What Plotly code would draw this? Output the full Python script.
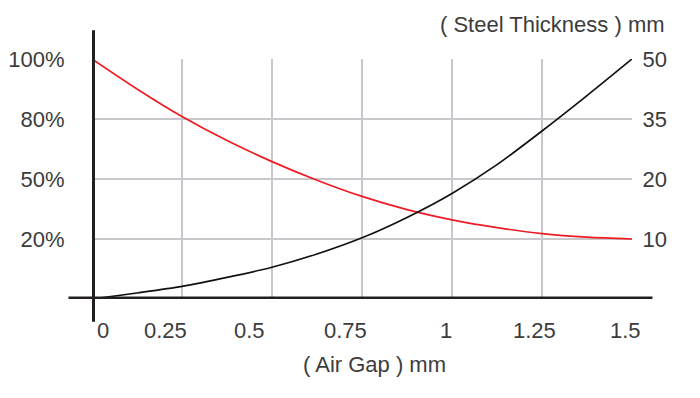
import plotly.graph_objects as go

# ---- data ----
air_gap = [0, 0.125, 0.25, 0.375, 0.5, 0.625, 0.75, 0.875, 1.0, 1.125, 1.25, 1.375, 1.5]
# positions on the (non-linear) level scale: 0 = baseline, 1..4 = labelled gridlines
force_level = [4.0, 3.5, 3.04, 2.64, 2.29, 1.98, 1.71, 1.49, 1.32, 1.19, 1.09, 1.03, 1.0]      # red (left, %)
thickness_level = [0.0, 0.1, 0.21, 0.36, 0.53, 0.75, 1.02, 1.36, 1.76, 2.24, 2.8, 3.39, 4.0]   # black (right, mm)

level_ticks = [1, 2, 3, 4]
pct_labels = ["20%", "50%", "80%", "100%"]
mm_labels = ["10", "20", "35", "50"]
x_tick_vals = [0, 0.25, 0.5, 0.75, 1.0, 1.25, 1.5]
x_tick_text = ["0", "0.25", "0.5", "0.75", "1", "1.25", "1.5"]
x_title = "( Air Gap ) mm"
y2_title = "( Steel Thickness ) mm"

# ---- style ----
FONT = "Liberation Sans, Arial, sans-serif"
TXT = "#3c3c3c"
GRID = "#c8c8cc"
AXIS = "#231f20"
FS = 22
x_label_shift = [11, -17, -23, -17, -6, -8, -7]

fig = go.Figure()
fig.add_trace(go.Scatter(x=air_gap, y=force_level, mode="lines",
                         line=dict(color="#ee1c25", width=1.7, shape="spline", smoothing=0.8),
                         cliponaxis=False, showlegend=False, hoverinfo="skip"))
fig.add_trace(go.Scatter(x=air_gap, y=thickness_level, mode="lines", yaxis="y2",
                         line=dict(color="#111111", width=1.7, shape="spline", smoothing=0.8),
                         cliponaxis=False, showlegend=False, hoverinfo="skip"))

# page body has an 8px margin: work in screen pixels and convert
OFF = 8
W, H = 692, 390
PL, PR, PT, PB = 92, 632, 59.3, 299.3        # plot area in screen pixels
L = PL - OFF
T = PT - OFF
R = W - (PR - OFF)
B = H - (PB - OFF)
pw, ph = W - L - R, H - T - B

def px_x(p):
    return (p - OFF - L) / pw

def px_y(p):
    return (H - B - (p - OFF)) / ph

fig.update_layout(
    width=W, height=H,
    margin=dict(l=L, r=R, t=T, b=B, autoexpand=False),
    paper_bgcolor="white", plot_bgcolor="white",
    font=dict(family=FONT, color=TXT, size=FS),
    xaxis=dict(range=[0, 1.5], tickvals=x_tick_vals, showticklabels=False, automargin=False,
               showgrid=True, gridcolor=GRID, gridwidth=1.6, zeroline=False, showline=False,
               ticks=""),
    yaxis=dict(range=[0, 4], tickvals=level_ticks, ticktext=pct_labels, automargin=False,
               showgrid=True, gridcolor=GRID, gridwidth=1.6, zeroline=False, showline=False,
               ticks="outside", ticklen=22, tickcolor="rgba(0,0,0,0)",
               tickfont=dict(family=FONT, color=TXT, size=FS)),
    yaxis2=dict(range=[0, 4], overlaying="y", side="right", tickvals=level_ticks,
                ticktext=mm_labels, showgrid=False, zeroline=False, showline=False,
                automargin=False,
                ticks="outside", ticklen=5, tickcolor="rgba(0,0,0,0)",
                tickfont=dict(family=FONT, color=TXT, size=FS)),
)

# thick axis lines
fig.add_shape(type="line", xref="x", yref="paper", x0=0, x1=0,
              y0=px_y(322), y1=px_y(30.5), line=dict(color=AXIS, width=6))
fig.add_shape(type="line", xref="paper", yref="y", x0=px_x(68.5), x1=px_x(652.5),
              y0=0, y1=0, line=dict(color=AXIS, width=5))

# x tick labels
for v, t, s in zip(x_tick_vals, x_tick_text, x_label_shift):
    fig.add_annotation(x=v, y=px_y(331), xref="x", yref="paper", text=t, showarrow=False,
                       xanchor="center", yanchor="middle", xshift=s,
                       font=dict(family=FONT, color=TXT, size=FS))

fig.add_annotation(x=px_x(374), y=px_y(365), xref="paper", yref="paper", text=x_title,
                   showarrow=False, xanchor="center", yanchor="middle",
                   font=dict(family=FONT, color=TXT, size=FS))
fig.add_annotation(x=px_x(667), y=px_y(25), xref="paper", yref="paper", text=y2_title,
                   showarrow=False, xanchor="right", yanchor="middle",
                   font=dict(family=FONT, color=TXT, size=FS))

fig.write_html("out.html")
